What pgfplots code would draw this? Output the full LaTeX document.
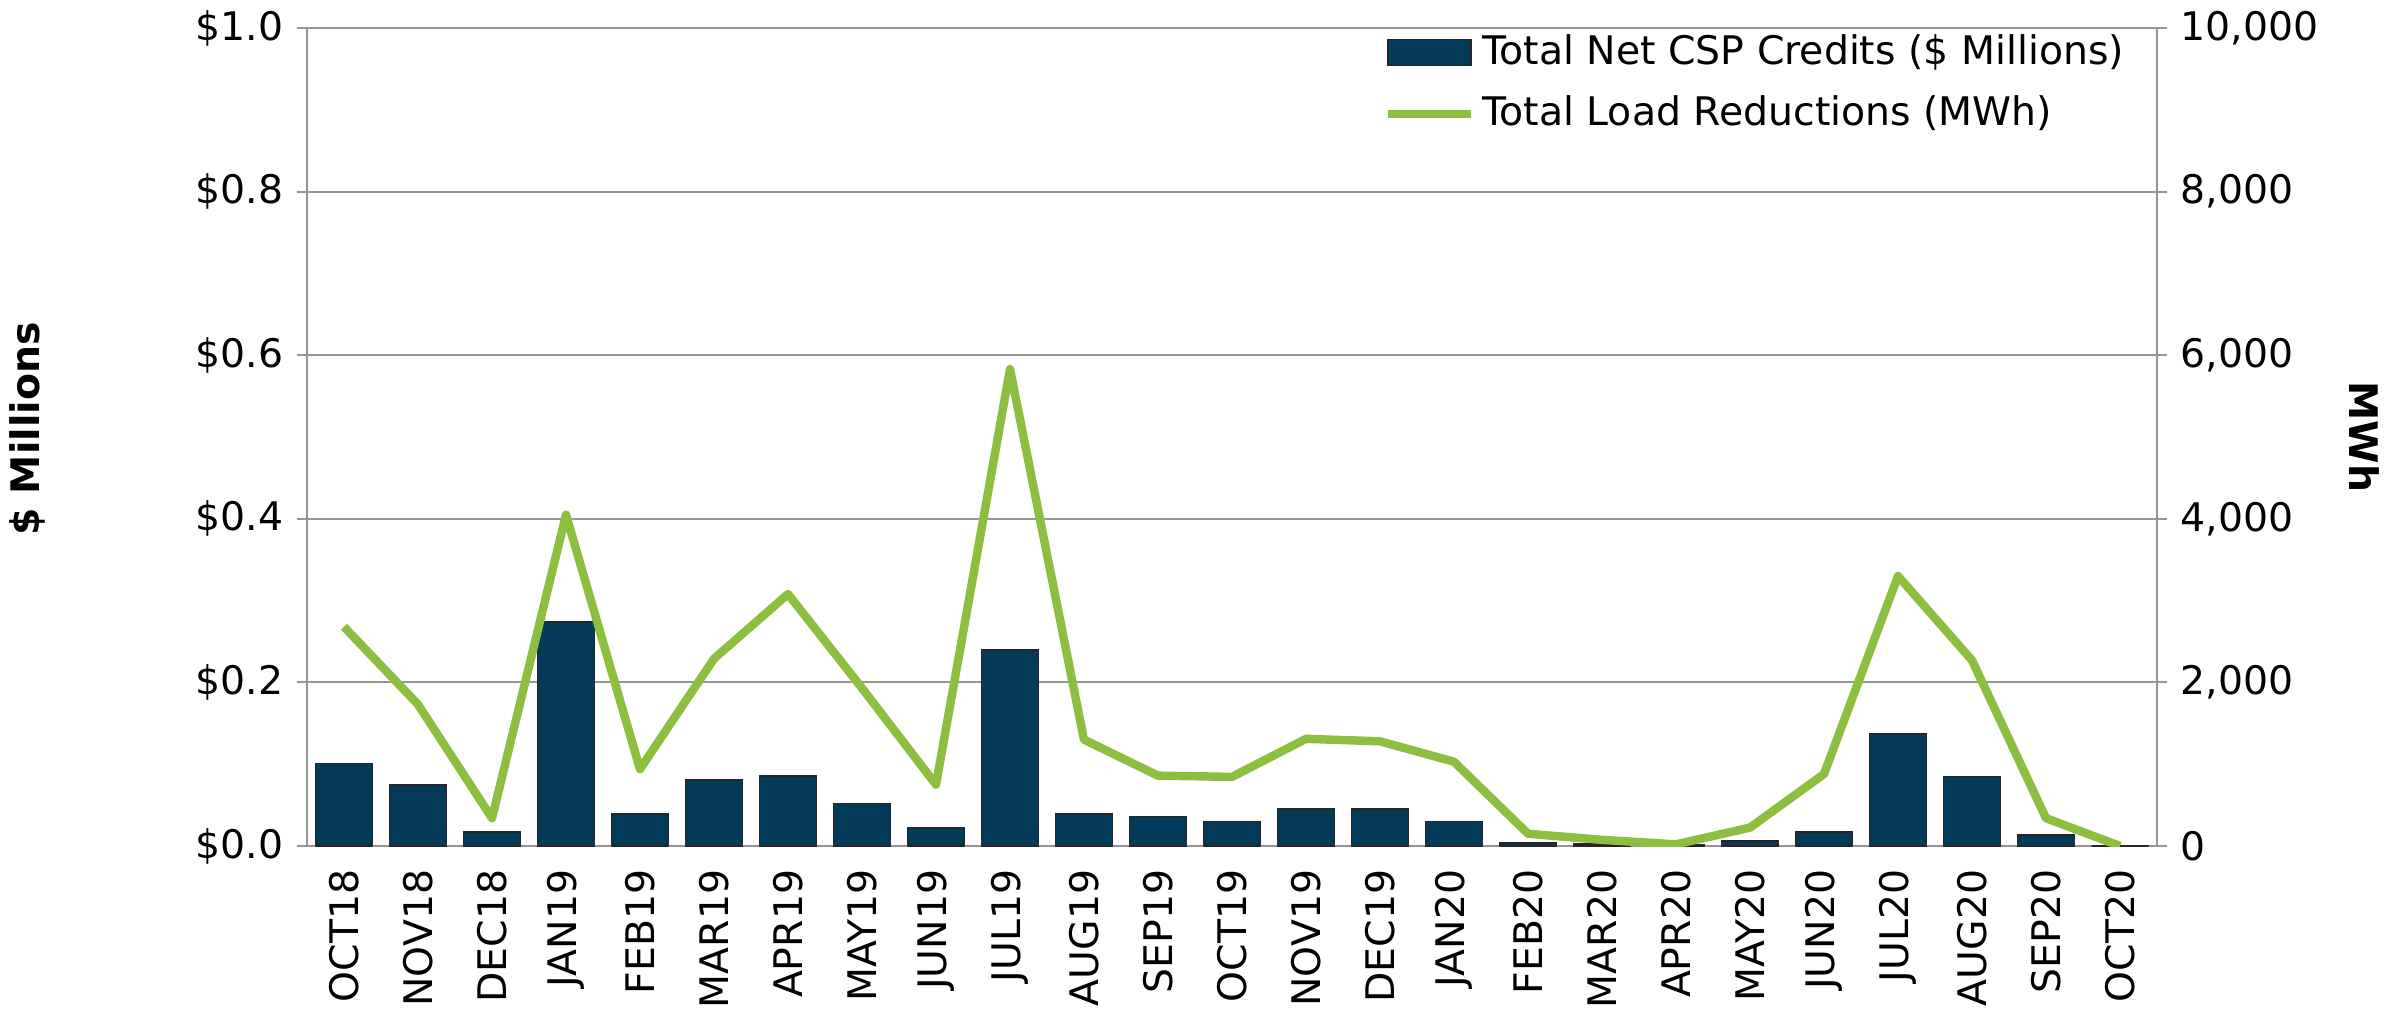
\documentclass[border=0pt]{standalone}
\usepackage{fontspec}
\setmainfont{DejaVu Sans}
\usepackage{pgfplots}
\usepackage{pgfplotstable}
\pgfplotsset{compat=1.18}

\definecolor{barblue}{RGB}{3,59,89}
\definecolor{lgreen}{RGB}{140,190,64}
\definecolor{gridgray}{RGB}{150,150,150}

% idx, net CSP credits ($ millions), load reductions (MWh)
\pgfplotstableread{
idx credits mwh
0  0.101 2680
1  0.075 1730
2  0.017 340
3  0.274 4050
4  0.039 940
5  0.081 2290
6  0.086 3080
7  0.052 1930
8  0.022 750
9  0.240 5830
10 0.039 1300
11 0.036 860
12 0.030 845
13 0.045 1310
14 0.045 1280
15 0.030 1030
16 0.004 150
17 0.002 75
18 0.001 20
19 0.006 225
20 0.017 880
21 0.137 3300
22 0.085 2270
23 0.013 340
24 0.000 0
}\csp

\begin{document}
\fontsize{11.2}{13}\selectfont
\begin{tikzpicture}
\pgfplotsset{
  every axis/.append style={
    scale only axis, width=185mm, height=81.8mm,
    xmin=-0.5, xmax=24.5,
    font=\fontsize{11.2}{13}\selectfont,
    /pgf/number format/assume math mode=true,
    tick align=outside, major tick length=1mm,
    tick style={gridgray, line width=0.6pt},
  },
}
\begin{axis}[
  name=ax,
  ymin=0, ymax=1,
  ytick={0,0.2,0.4,0.6,0.8,1},
  yticklabel style={/pgf/number format/.cd, fixed, fixed zerofill, precision=1},
  yticklabel={\$\pgfmathprintnumber{\tick}},
  xtick={0,...,24},
  xticklabels={OCT18,NOV18,DEC18,JAN19,FEB19,MAR19,APR19,MAY19,JUN19,JUL19,AUG19,SEP19,OCT19,NOV19,DEC19,JAN20,FEB20,MAR20,APR20,MAY20,JUN20,JUL20,AUG20,SEP20,OCT20},
  x tick label style={rotate=90, anchor=east},
  major x tick style={draw=none},
  axis y line*=left,
  axis x line*=bottom,
  axis line style={gridgray, line width=0.6pt},
  ymajorgrids,
  grid style={gridgray, line width=0.6pt},
  ylabel={\textbf{\$ Millions}},
  ylabel style={at={(axis description cs:-0.151,0.51)}, anchor=center},
]
\addplot[ybar, bar width=0.77, bar shift=0pt, fill=barblue, draw=black!85, line width=0.5pt]
  table[x=idx, y=credits] {\csp};
\draw[gridgray, line width=0.6pt] (rel axis cs:0,1) -- (rel axis cs:1,1);
\end{axis}

\begin{axis}[
  ymin=0, ymax=10000,
  ytick={0,2000,4000,6000,8000,10000},
  scaled y ticks=false,
  yticklabel style={/pgf/number format/.cd, fixed, 1000 sep={,}},
  axis y line*=right,
  axis x line=none,
  axis line style={gridgray, line width=0.6pt},
  ylabel={\textbf{MWh}},
  ylabel style={at={(axis description cs:1.112,0.5)}, anchor=center, rotate=180},
  legend style={at={(rel axis cs:0.992,1.01)}, anchor=north east,
    draw=none, fill=none, font=\fontsize{11.2}{13}\selectfont,
    row sep=1.15mm, cells={anchor=west}},
]
\addlegendimage{legend image code/.code={
  \fill[barblue, draw=black!85, line width=0.5pt] (0mm,-1.3mm) rectangle (8.3mm,1.3mm);}}
\addlegendentry{Total Net CSP Credits (\$ Millions)}
\addplot[lgreen, line width=2.4pt, line join=round,
  legend image code/.code={\draw[lgreen, line width=2.4pt] (0mm,0) -- (8.3mm,0);}]
  table[x=idx, y=mwh] {\csp};
\addlegendentry{Total Load Reductions (MWh)}
\end{axis}

\pgfresetboundingbox
\path[use as bounding box] ([xshift=-30.7mm,yshift=-16.4mm]ax.south west)
  rectangle ([xshift=25mm,yshift=2.8mm]ax.north east);
\end{tikzpicture}
\end{document}
